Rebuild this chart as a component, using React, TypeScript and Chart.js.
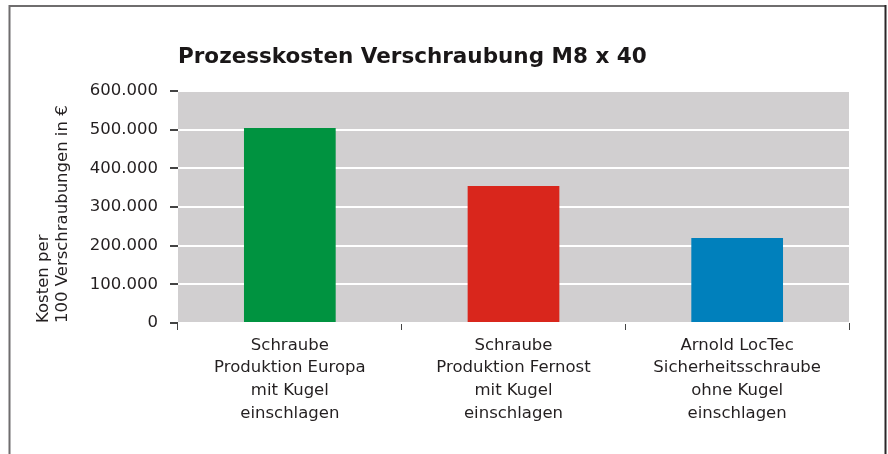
import React, { useEffect, useRef } from "react";
import { Chart, registerables } from "chart.js";

Chart.register(...registerables);

const categories: string[][] = [
  ["Schraube", "Produktion Europa", "mit Kugel", "einschlagen"],
  ["Schraube", "Produktion Fernost", "mit Kugel", "einschlagen"],
  ["Arnold LocTec", "Sicherheitsschraube", "ohne Kugel", "einschlagen"],
];
const costs: number[] = [504000, 354000, 220000];
const barColors: string[] = ["#009340", "#d9261c", "#0080bc"];
const chartTitle = "Prozesskosten Verschraubung M8 x 40";
const yTitle: string[] = ["Kosten per", "100 Verschraubungen in €"];
const yMin = 0;
const yMax = 600000;
const yStep = 100000;

const FONT = "'DejaVu Sans', sans-serif";

const decorPlugin = {
  id: "decor",
  beforeDraw(chart: any) {
    const { ctx, chartArea } = chart;
    ctx.save();
    ctx.fillStyle = "#d1cfd0";
    ctx.fillRect(chartArea.left, chartArea.top, chartArea.right - chartArea.left, chartArea.bottom - chartArea.top);
    ctx.restore();
  },
  afterDraw(chart: any) {
    const { ctx, chartArea } = chart;
    ctx.save();
    // frame
    ctx.strokeStyle = "#6f6d6e";
    ctx.lineWidth = 2;
    ctx.beginPath();
    ctx.moveTo(9.5, 460);
    ctx.lineTo(9.5, 6);
    ctx.lineTo(885.5, 6);
    ctx.stroke();
    ctx.strokeStyle = "#2a2728";
    ctx.beginPath();
    ctx.moveTo(885.5, 5);
    ctx.lineTo(885.5, 460);
    ctx.stroke();
    // title
    ctx.fillStyle = "#1a1718";
    ctx.font = `bold 21.5px ${FONT}`;
    ctx.textBaseline = "alphabetic";
    ctx.textAlign = "left";
    ctx.fillText(chartTitle, chartArea.left, 63);
    ctx.restore();
  },
};

export default function App() {
  const ref = useRef<HTMLCanvasElement | null>(null);
  useEffect(() => {
    if (!ref.current) return;
    const chart = new Chart(ref.current, {
      type: "bar",
      data: {
        labels: categories,
        datasets: [
          {
            data: costs,
            backgroundColor: barColors,
            borderWidth: 0,
            categoryPercentage: 1,
            barPercentage: 0.41,
          },
        ],
      },
      options: {
        animation: false,
        responsive: false,
        devicePixelRatio: 1,
        layout: { padding: { left: 0, right: 39, top: 91, bottom: 0 } },
        plugins: { legend: { display: false }, tooltip: { enabled: false }, title: { display: false } },
        scales: {
          x: {
            border: { display: false },
            grid: {
              display: true,
              drawOnChartArea: false,
              drawTicks: true,
              tickLength: 7,
              tickColor: "#444",
              offset: true,
            },
            ticks: {
              color: "#231f20",
              font: { family: FONT, size: 16.5, lineHeight: 1.38 },
              padding: 4,
              maxRotation: 0,
              autoSkip: false,
            },
            afterFit(scale: any) {
              scale.height = 131;
            },
          },
          y: {
            min: yMin,
            max: yMax,
            border: { display: false },
            grid: {
              color: "#ffffff",
              lineWidth: 2,
              tickColor: "#444",
              tickLength: 8,
              drawTicks: true,
            },
            ticks: {
              stepSize: yStep,
              color: "#231f20",
              font: { family: FONT, size: 16.5 },
              padding: 12,
              callback: (v: any) => Number(v).toLocaleString("de-DE"),
            },
            title: {
              display: true,
              text: yTitle,
              align: "start",
              color: "#231f20",
              font: { family: FONT, size: 16.5, lineHeight: 1.15 },
              padding: { top: 34, bottom: 0 },
            },
            afterFit(scale: any) {
              scale.width = 178;
            },
          },
        },
      },
      plugins: [decorPlugin],
    } as any);
    return () => chart.destroy();
  }, []);
  return (
    <div style={{ position: "fixed", left: 0, top: 0, width: 888, height: 454, background: "#fff" }}>
      <canvas ref={ref} width={888} height={454} style={{ display: "block", width: 888, height: 454 }} />
    </div>
  );
}
